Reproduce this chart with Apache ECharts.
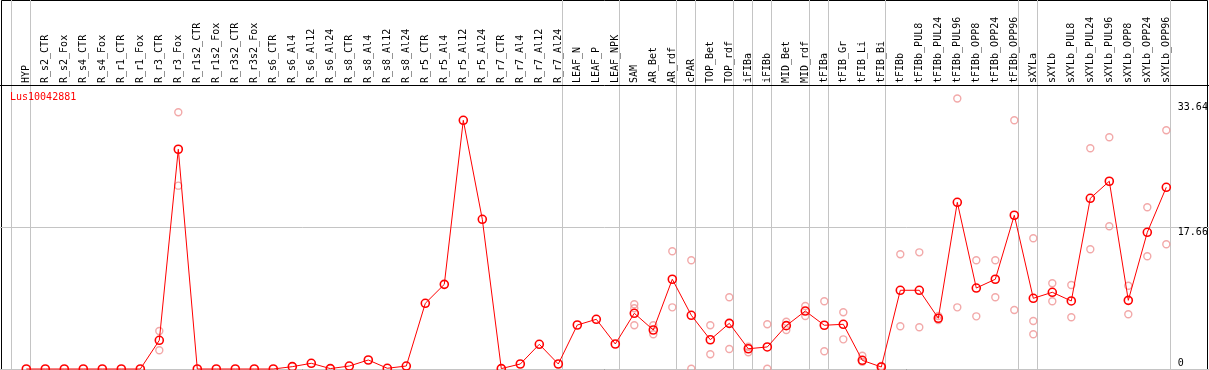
<!DOCTYPE html>
<html>
<head>
<meta charset="utf-8">
<script src="https://cdn.jsdelivr.net/npm/echarts@6/dist/echarts.min.js"></script>
<style>
html,body{margin:0;padding:0;background:#fff;}
#chart{width:1209px;height:370px;}
</style>
</head>
<body>
<div id="chart"></div>
<script>
const chartTitle = 'Lus10042881';

const categories = ['HYP','R_s2_CTR','R_s2_Fox','R_s4_CTR','R_s4_Fox','R_r1_CTR','R_r1_Fox','R_r3_CTR','R_r3_Fox',
  'R_r1s2_CTR','R_r1s2_Fox','R_r3s2_CTR','R_r3s2_Fox','R_s6_CTR','R_s6_Al4','R_s6_Al12','R_s6_Al24',
  'R_s8_CTR','R_s8_Al4','R_s8_Al12','R_s8_Al24','R_r5_CTR','R_r5_Al4','R_r5_Al12','R_r5_Al24',
  'R_r7_CTR','R_r7_Al4','R_r7_Al12','R_r7_Al24','LEAF_N','LEAF_P','LEAF_NPK','SAM','AR_Bet','AR_rdf',
  'cPAR','TOP_Bet','TOP_rdf','iFIBa','iFIBb','MID_Bet','MID_rdf','tFIBa','tFIB_Gr','tFIB_Li','tFIB_Bi',
  'tFIBb','tFIBb_PUL8','tFIBb_PUL24','tFIBb_PUL96','tFIBb_OPP8','tFIBb_OPP24','tFIBb_OPP96',
  'sXYLa','sXYLb','sXYLb_PUL8','sXYLb_PUL24','sXYLb_PUL96','sXYLb_OPP8','sXYLb_OPP24','sXYLb_OPP96'];

const meanValues = [0,0,0,0,0,0,0,3.57,27.33,
  0,0,0,0,0,0.29,0.71,0.05,
  0.37,1.12,0.09,0.37,8.17,10.53,30.93,18.62,
  0.05,0.62,3.07,0.62,5.47,6.18,3.11,6.93,4.85,11.16,
  6.68,3.64,5.68,2.52,2.74,5.39,7.21,5.44,5.56,1.08,0.25,
  9.79,9.79,6.31,20.73,10.07,11.16,19.12,
  8.79,9.54,8.46,21.23,23.35,8.54,17.0,22.6];

const replicateValues = [[],[],[],[],[],[],[],[4.73,2.33],[31.93,22.8],
  [],[],[],[],[],[],[],[],
  [],[],[],[],[],[],[],[],
  [],[],[],[],[],[],[],[8.05,7.55,5.44],[5.44,4.32],[14.64,7.67],
  [13.52,0.04],[5.44,1.83],[8.92,2.49],[2.77,2.08],[5.56,0.04],[5.88,4.85],[7.84,6.59],[8.42,2.2],[7.05,3.69],[1.65,0.91],[0.37],
  [14.27,5.31],[14.51,5.19],[6.59,6.09],[33.64,7.67],[13.52,6.55],[13.52,8.92],[30.93,7.34],
  [16.26,5.97,4.32],[10.66,8.42],[10.45,6.43],[27.45,14.89],[28.82,17.75],[10.36,6.8],[20.11,14.02],[29.69,15.51]];

// group separators: a line before the first category and after each of these
const groupEnds = ['HYP','R_r7_Al24','LEAF_NPK','AR_rdf','cPAR','TOP_rdf','iFIBa','iFIBb','MID_rdf',
  'tFIBa','tFIB_Bi','tFIBb_OPP96','sXYLa','sXYLb_OPP96'];

const yTickLabels = [0, 17.66, 33.64];
const yGridStep = 17.66;
const yAxisMax = 35.32;

const FONT = 'DejaVu Sans Mono';
const GRIDLINE = '#c4c4c4';

const chart = echarts.init(document.getElementById('chart'), null, {renderer: 'canvas', width: 1209, height: 370});

const scatterData = [];
replicateValues.forEach((reps, i) => reps.forEach(v => scatterData.push([i, v])));

const step = 19;
const plotLeft = 16.8;
const plotWidth = categories.length * step;

const option = {
  animation: false,
  backgroundColor: '#fff',
  title: {
    text: chartTitle, left: 10, top: 92, padding: 0,
    textStyle: {color: '#ff0000', fontSize: 10, fontFamily: FONT, fontWeight: 'normal'}
  },
  grid: [
    // 0: data plot
    {left: plotLeft, width: plotWidth, top: 85, bottom: 1, containLabel: false, outerBoundsMode: 'none'},
    // 1: full-width background for horizontal grid line + top rule
    {left: 0, right: 0, top: 85, bottom: 1, outerBoundsMode: 'none'},
    // 2: group separators, full height, offset from category centers
    {left: plotLeft + step / 2 - step + 4.3, width: plotWidth, top: 0, bottom: 0, outerBoundsMode: 'none'},
    // 3: outer frame
    {left: 1.5, right: 1.5, top: 0.5, bottom: 0.5, show: true, borderColor: '#000', borderWidth: 1,
      backgroundColor: 'transparent', outerBoundsMode: 'none'}
  ],
  xAxis: [
    {
      gridIndex: 0, type: 'category', data: categories, position: 'top', boundaryGap: true,
      axisLine: {show: false}, axisTick: {show: false}, splitLine: {show: false},
      axisLabel: {interval: 0, rotate: 90, margin: 2, color: '#000', fontSize: 10, fontFamily: FONT}
    },
    {
      gridIndex: 1, type: 'value', min: 0, max: 1, position: 'top',
      axisLine: {show: true, onZero: false, lineStyle: {color: '#000', width: 1}},
      axisTick: {show: false}, axisLabel: {show: false}, splitLine: {show: false}
    },
    {
      gridIndex: 2, type: 'category', data: [''].concat(categories), boundaryGap: false,
      axisLine: {show: false}, axisTick: {show: false}, axisLabel: {show: false},
      splitLine: {show: true, interval: (idx, val) => idx === 0 || groupEnds.includes(val),
        lineStyle: {color: GRIDLINE, width: 1}}
    },
    {gridIndex: 3, type: 'value', show: false, min: 0, max: 1}
  ],
  yAxis: [
    {
      gridIndex: 0, type: 'value', position: 'right', min: 0, max: yAxisMax, interval: yGridStep,
      axisLine: {show: false}, axisTick: {show: false}, splitLine: {show: false},
      axisLabel: {
        show: true, margin: 2, color: '#000', fontSize: 10, fontFamily: FONT,
        customValues: yTickLabels,
        formatter: (v) => {
          const i = yTickLabels.indexOf(v);
          const key = i === 0 ? 'b' : (i === yTickLabels.length - 1 ? 't' : 'm');
          return '{' + key + '|' + v + '}';
        },
        rich: {
          b: {fontSize: 10, fontFamily: FONT, color: '#000', lineHeight: 10, padding: [0, 0, 12, 0]},
          m: {fontSize: 10, fontFamily: FONT, color: '#000', lineHeight: 10, padding: [10, 0, 0, 0]},
          t: {fontSize: 10, fontFamily: FONT, color: '#000', lineHeight: 10, padding: [18, 0, 0, 0]}
        }
      }
    },
    {
      gridIndex: 1, type: 'value', min: 0, max: yAxisMax, interval: yGridStep,
      axisLine: {show: false}, axisTick: {show: false}, axisLabel: {show: false},
      splitLine: {show: true, lineStyle: {color: GRIDLINE, width: 1}}
    },
    {gridIndex: 2, type: 'value', show: false, min: 0, max: 1, splitLine: {show: false}},
    {gridIndex: 3, type: 'value', show: false, min: 0, max: 1, splitLine: {show: false}}
  ],
  series: [
    {
      name: 'replicates', type: 'scatter', xAxisIndex: 0, yAxisIndex: 0, data: scatterData,
      symbol: 'circle', symbolSize: 7, clip: false, z: 3,
      itemStyle: {color: 'rgba(255,255,255,0)', borderColor: '#ef9494', borderWidth: 1.4}
    },
    {
      name: chartTitle, type: 'line', xAxisIndex: 0, yAxisIndex: 0, data: meanValues,
      symbol: 'circle', symbolSize: 8, showAllSymbol: true, clip: false, z: 4,
      lineStyle: {color: '#ff0000', width: 1},
      itemStyle: {color: 'rgba(255,255,255,0)', borderColor: '#ff0000', borderWidth: 1.6}
    }
  ]
};
chart.setOption(option);
</script>
</body>
</html>
